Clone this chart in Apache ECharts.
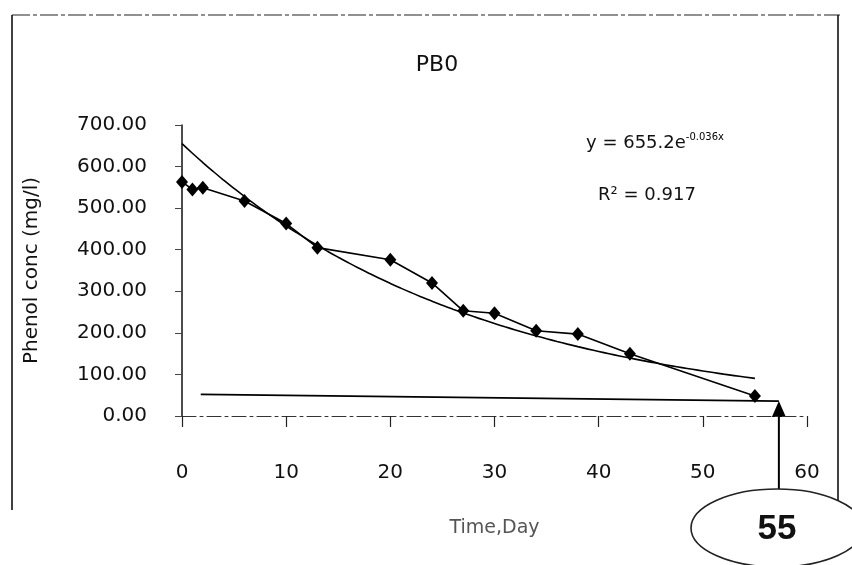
<!DOCTYPE html>
<html>
<head>
<meta charset="utf-8">
<script src="https://cdn.jsdelivr.net/npm/echarts@6/dist/echarts.min.js"></script>
<style>
  html, body { margin: 0; padding: 0; background: #fff; }
  #chart { width: 852px; height: 565px; }
</style>
</head>
<body>
<div id="chart"></div>
<script>
// Measured phenol concentration over time
const days   = [0, 1, 2, 6, 10, 13, 20, 24, 27, 30, 34, 38, 43, 55];
const phenol = [563, 545, 549, 517, 463, 405, 376, 320, 253, 247, 205, 197, 150, 48];

// Exponential trendline y = a * e^(-k x) and its fit quality
const trendA = 655.2;
const trendK = 0.036;
const trendR2 = 0.917;
const trendRange = [0, 55];

// Annotation: guide line running to the day-55 marker
const guideLine = [[1.8, 52], [57.3, 36]];
const markedDay = '55';

const font = 'DejaVu Sans';

const trendPts = [];
for (let d = trendRange[0]; d <= trendRange[1]; d += 1) {
  trendPts.push([d, trendA * Math.exp(-trendK * d)]);
}

const chart = echarts.init(document.getElementById('chart'));

const option = {
  animation: false,
  backgroundColor: '#fff',
  grid: { left: 182, top: 125, width: 625, height: 291, containLabel: false },
  xAxis: {
    type: 'value', min: 0, max: 60, interval: 10,
    name: 'Time,Day', nameLocation: 'middle', nameGap: 103,
    nameTextStyle: { fontFamily: font, fontSize: 19, color: '#555' },
    axisLine: { show: true, onZero: false, lineStyle: { color: '#333', width: 1, type: [14, 4, 3, 4] } },
    axisTick: { show: true, length: 11, lineStyle: { color: '#222', width: 1.2 } },
    axisLabel: { margin: 47, fontFamily: font, fontSize: 20, color: '#111' },
    splitLine: { show: false }
  },
  yAxis: {
    type: 'value', min: 0, max: 700, interval: 100,
    name: 'Phenol conc (mg/l)', nameLocation: 'middle', nameGap: 140, nameRotate: 90,
    nameTextStyle: { fontFamily: font, fontSize: 20, color: '#111' },
    axisLine: { show: true, lineStyle: { color: '#111', width: 1.5 } },
    axisTick: { show: true, inside: false, length: 7, lineStyle: { color: '#444', width: 1 } },
    axisLabel: { margin: 35, fontFamily: font, fontSize: 20, color: '#111',
      formatter: v => v.toFixed(2) },
    splitLine: { show: false }
  },
  series: [
    {
      name: 'Phenol', type: 'line',
      data: days.map((d, i) => [d, phenol[i]]),
      symbol: 'diamond', symbolSize: [12, 14],
      itemStyle: { color: '#000' },
      lineStyle: { color: '#000', width: 1.6 },
      z: 4
    },
    {
      name: 'Expon. trend', type: 'line',
      data: trendPts, smooth: true,
      symbol: 'none',
      lineStyle: { color: '#000', width: 1.6 },
      z: 3
    },
    {
      name: 'Guide', type: 'line',
      data: guideLine, symbol: 'none',
      lineStyle: { color: '#000', width: 1.8 },
      z: 2
    }
  ]
};

chart.setOption(option);

// Pixel position of the arrow tip where the guide line ends
const tip = chart.convertToPixel({ gridIndex: 0 }, guideLine[1]);
const ell = { cx: 777, cy: 528, rx: 86, ry: 39 };

chart.setOption({
  graphic: [
    // outer frame
    { type: 'line', shape: { x1: 12, y1: 15, x2: 840, y2: 15 },
      style: { stroke: '#222', lineWidth: 1.2, lineDash: [18, 3, 4, 3] }, silent: true },
    { type: 'line', shape: { x1: 12, y1: 15, x2: 12, y2: 510 },
      style: { stroke: '#111', lineWidth: 1.6 }, silent: true },
    { type: 'line', shape: { x1: 838, y1: 15, x2: 838, y2: 505 },
      style: { stroke: '#111', lineWidth: 1.6 }, silent: true },
    // title
    { type: 'text', x: 437, y: 65,
      style: { text: 'PB0', font: '22px "DejaVu Sans"', fill: '#111',
        textAlign: 'center', textVerticalAlign: 'middle' }, silent: true },
    // trendline equation
    { type: 'text', x: 655, y: 143,
      style: {
        text: '{b|y = ' + trendA + 'e}{s|-' + trendK + 'x}',
        rich: {
          b: { fontFamily: font, fontSize: 18, fill: '#111', color: '#111' },
          s: { fontFamily: font, fontSize: 10, color: '#111', verticalAlign: 'top', padding: [0, 0, 12, 0] }
        },
        textAlign: 'center', textVerticalAlign: 'middle'
      }, silent: true },
    { type: 'text', x: 647, y: 195,
      style: { text: 'R\u00B2 = ' + trendR2, font: '18px "DejaVu Sans"', fill: '#111',
        textAlign: 'center', textVerticalAlign: 'middle' }, silent: true },
    // arrow up to the guide line
    { type: 'line', shape: { x1: tip[0], y1: ell.cy - ell.ry, x2: tip[0], y2: tip[1] + 12 },
      style: { stroke: '#000', lineWidth: 2 }, silent: true },
    { type: 'polygon',
      shape: { points: [[tip[0], tip[1]], [tip[0] - 7, tip[1] + 16], [tip[0] + 7, tip[1] + 16]] },
      style: { fill: '#000' }, silent: true },
    // circled day marker
    { type: 'ellipse', shape: { cx: ell.cx, cy: ell.cy, rx: ell.rx, ry: ell.ry },
      style: { fill: '#fff', stroke: '#222', lineWidth: 1.6 }, silent: true },
    { type: 'text', x: ell.cx, y: ell.cy + 1,
      style: { text: markedDay, font: 'bold 35px "Liberation Sans"', fill: '#111',
        textAlign: 'center', textVerticalAlign: 'middle' }, silent: true }
  ]
});
</script>
</body>
</html>
